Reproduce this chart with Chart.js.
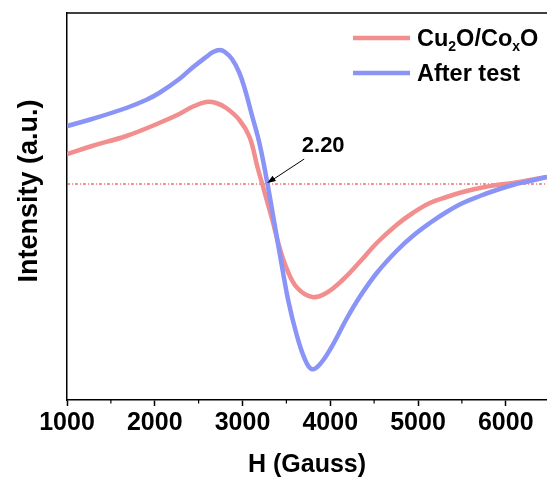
<!DOCTYPE html>
<html>
<head>
<meta charset="utf-8">
<script src="https://cdn.jsdelivr.net/npm/chart.js@4.4.1/dist/chart.umd.min.js"></script>
<style>
  html, body { margin: 0; padding: 0; background: #fff; overflow: hidden; }
</style>
</head>
<body>
<canvas id="epr" width="547" height="483"></canvas>
<script>
// EPR spectra, field in Gauss, intensity in arbitrary units (0 = baseline)
const cuField = [1000, 1285, 1675, 2050, 2280, 2425, 2585, 2700, 2815, 2965, 3080, 3170, 3225, 3340, 3420, 3510, 3625, 3795, 3955, 4140, 4335, 4530, 4755, 4940, 5135, 5325, 5510, 5705, 5895, 6080, 6275, 6470];
const cuIntensity = [30, 38, 48, 61, 70, 77, 82, 81, 76, 64, 47, 17, 0, -36, -63, -86, -104, -113, -109, -96, -78, -59, -41, -29, -19, -13, -8, -4, -1, 1, 4, 7];

const afterField = [1000, 1285, 1675, 1900, 2050, 2280, 2425, 2585, 2665, 2740, 2800, 2880, 2960, 3020, 3110, 3195, 3285, 3365, 3445, 3525, 3615, 3705, 3785, 3875, 4015, 4185, 4335, 4530, 4755, 4940, 5135, 5325, 5510, 5705, 5895, 6080, 6275, 6470];
const afterIntensity = [58, 65, 76, 84, 91, 105, 116, 127, 132, 134, 132, 125, 112, 97, 68, 40, 0, -40, -80, -118, -150, -174, -185, -181, -163, -135, -113, -89, -67, -52, -39, -28, -19, -12, -6, -1, 3, 7];

const seriesNames = ['Cu2O/CoxO', 'After test'];
const xTicks = [1000, 2000, 3000, 4000, 5000, 6000];
const gLabel = '2.20';
const gField = 3270;   // field where the g value is marked

const FONT = "'Liberation Sans', Arial, sans-serif";
const RED = 'rgb(242,142,142)';
const BLUE = 'rgb(138,148,246)';

const toPoints = (xs, ys) => xs.map((x, i) => ({ x: x, y: ys[i] }));

// axis box, minor ticks, legend, y title and the g-value callout
const decorations = {
  id: 'decorations',
  afterDraw(chart) {
    const { ctx, chartArea: area, scales } = chart;
    const x = scales.x, y = scales.y;
    ctx.save();

    // top frame line
    ctx.strokeStyle = '#000';
    ctx.lineWidth = 1.5;
    ctx.beginPath();
    ctx.moveTo(area.left, area.top);
    ctx.lineTo(area.right, area.top);
    ctx.stroke();

    // minor ticks
    ctx.lineWidth = 1.2;
    for (let v = 1500; v <= 7000; v += 1000) {
      const px = x.getPixelForValue(v);
      if (px > area.right) break;
      ctx.beginPath();
      ctx.moveTo(px, area.bottom);
      ctx.lineTo(px, area.bottom + 3.5);
      ctx.stroke();
    }

    // y axis title
    ctx.fillStyle = '#000';
    ctx.font = 'bold 27px ' + FONT;
    ctx.textAlign = 'center';
    ctx.textBaseline = 'middle';
    ctx.translate(30, 191);
    ctx.rotate(-Math.PI / 2);
    ctx.fillText('Intensity (a.u.)', 0, 0);
    ctx.setTransform(1, 0, 0, 1, 0, 0);

    // legend
    const rows = [
      { color: RED, y: 38, parts: [['Cu', 0], ['2', 1], ['O/Co', 0], ['x', 1], ['O', 0]] },
      { color: BLUE, y: 73, parts: [[seriesNames[1], 0]] }
    ];
    rows.forEach(r => {
      ctx.strokeStyle = r.color;
      ctx.lineWidth = 4.5;
      ctx.beginPath();
      ctx.moveTo(353, r.y);
      ctx.lineTo(410, r.y);
      ctx.stroke();
      let tx = 417;
      ctx.textAlign = 'left';
      ctx.textBaseline = 'alphabetic';
      r.parts.forEach(([t, sub]) => {
        ctx.font = sub ? 'bold 14px ' + FONT : 'bold 23.5px ' + FONT;
        ctx.fillText(t, tx, r.y + (sub ? 13 : 8));
        tx += ctx.measureText(t).width;
      });
    });

    // g value arrow pointing at the zero crossing
    const tipX = x.getPixelForValue(gField), tipY = y.getPixelForValue(0);
    const tailX = tipX + 38, tailY = tipY - 25;
    ctx.strokeStyle = '#000';
    ctx.fillStyle = '#000';
    ctx.lineWidth = 1;
    ctx.beginPath();
    ctx.moveTo(tailX, tailY);
    ctx.lineTo(tipX + 3, tipY - 2);
    ctx.stroke();
    const a = Math.atan2(tipY - tailY, tipX - tailX);
    ctx.beginPath();
    ctx.moveTo(tipX + 1, tipY - 1);
    ctx.lineTo(tipX + 1 - 9 * Math.cos(a - 0.35), tipY - 1 - 9 * Math.sin(a - 0.35));
    ctx.lineTo(tipX + 1 - 9 * Math.cos(a + 0.35), tipY - 1 - 9 * Math.sin(a + 0.35));
    ctx.closePath();
    ctx.fill();
    ctx.font = 'bold 22px ' + FONT;
    ctx.textAlign = 'center';
    ctx.textBaseline = 'middle';
    ctx.fillText(gLabel, tipX + 57, tipY - 38);

    ctx.restore();
  }
};

const ctx = document.getElementById('epr').getContext('2d');
new Chart(ctx, {
  type: 'line',
  data: {
    datasets: [
      {
        label: seriesNames[1],
        data: toPoints(afterField, afterIntensity),
        borderColor: BLUE,
        borderWidth: 4.5,
        pointRadius: 0,
        tension: 0.4,
        order: 0
      },
      {
        label: seriesNames[0],
        data: toPoints(cuField, cuIntensity),
        borderColor: RED,
        borderWidth: 4.5,
        pointRadius: 0,
        tension: 0.4,
        order: 1
      },
      {
        label: 'baseline',
        data: [{ x: 1000, y: 0 }, { x: 6470, y: 0 }],
        borderColor: '#d83030',
        borderWidth: 1,
        borderDash: [3, 2, 1, 2],
        pointRadius: 0,
        order: 2
      }
    ]
  },
  options: {
    responsive: false,
    animation: false,
    layout: { padding: { top: 13, right: 0, left: 0, bottom: 0 } },
    plugins: {
      legend: { display: false },
      tooltip: { enabled: false }
    },
    scales: {
      x: {
        type: 'linear',
        min: 1000,
        max: 6470,
        afterBuildTicks: s => { s.ticks = xTicks.map(v => ({ value: v })); },
        afterFit: s => { s.height = 83; },
        grid: { display: true, drawOnChartArea: false, drawTicks: true, tickLength: 6, tickColor: '#000', tickWidth: 1.5 },
        border: { display: true, color: '#000', width: 1.5 },
        ticks: {
          color: '#000',
          padding: 2,
          maxRotation: 0,
          autoSkip: false,
          callback: v => String(v),
          font: { family: FONT, size: 25, weight: 'bold' }
        },
        title: {
          display: true,
          text: 'H (Gauss)',
          color: '#000',
          padding: { top: 0, bottom: 3 },
          font: { family: FONT, size: 25, weight: 'bold' }
        }
      },
      y: {
        min: -216,
        max: 171,
        afterFit: s => { s.width = 67; },
        grid: { display: true, drawOnChartArea: false, drawTicks: false },
        border: { display: true, color: '#000', width: 1.5 },
        ticks: { display: false }
      }
    }
  },
  plugins: [decorations]
});
</script>
</body>
</html>
